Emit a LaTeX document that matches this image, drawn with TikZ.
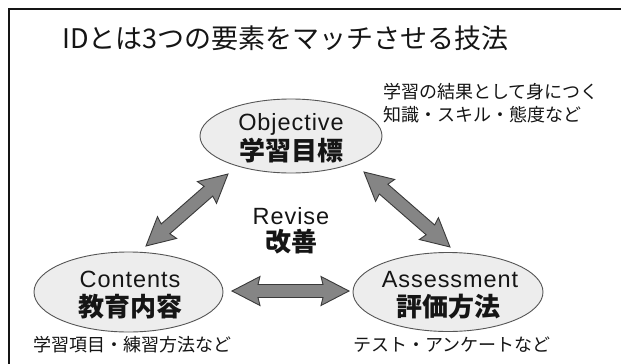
\documentclass[tikz,border=0pt]{standalone}
\usepackage{fontspec}
\setmainfont{Liberation Sans}
\newfontfamily\jp{Noto Sans CJK JP}
\newfontfamily\lat[LetterSpace=4]{Liberation Sans}
\usetikzlibrary{calc,shapes.geometric}
\definecolor{ellfill}{HTML}{EDEDED}
\definecolor{ellline}{HTML}{555555}
\definecolor{arrfill}{HTML}{858585}
\definecolor{arrline}{HTML}{3A3A3A}
\definecolor{ink}{HTML}{151515}
\tikzset{
  elem/.style={ellipse, draw=ellline, fill=ellfill, line width=0.9pt, inner sep=0pt},
  entxt/.style={inner sep=0pt, text=ink, font=\fontsize{23.5}{24}\lat},
  jatxt/.style={inner sep=0pt, text=ink, font=\fontsize{26}{28}\jp\bfseries},
  note/.style={inner sep=0pt, text=ink, anchor=west, font=\fontsize{18}{24}\jp},
  fatarrow/.style={draw=arrline, fill=arrfill, line width=0.9pt, line join=miter}
}
\newcommand\fatarrow[2]{%
  \path let \p1=(#1), \p2=(#2), \n1={atan2(\y2-\y1,\x2-\x1)}, \n2={veclen(\x2-\x1,\y2-\y1)} in
    [fatarrow, shift={(\p1)}, rotate=\n1]
    (0pt,0pt) -- (28pt,14.5pt) -- (26pt,6.5pt) -- (\n2-26pt,6.5pt) -- (\n2-28pt,14.5pt)
    -- (\n2,0pt) -- (\n2-28pt,-14.5pt) -- (\n2-26pt,-6.5pt) -- (26pt,-6.5pt) -- (28pt,-14.5pt) -- cycle;}
\begin{document}
\begin{tikzpicture}[x=1pt,y=1pt]
\useasboundingbox (0,0) rectangle (621,-364);
\fill[white] (0,0) rectangle (621,-364);
\draw[line width=2pt, color=ink] (9,-364) -- (9,-9) -- (621,-9);
\node[inner sep=0pt, anchor=base west, text=ink, font=\fontsize{27}{30}\jp] (title) at (62,-48) {IDとは3つの要素をマッチさせる技法};
% ellipses
\node[elem, minimum width=182pt, minimum height=74pt] (obj) at (291,-136) {};
\node[elem, minimum width=189pt, minimum height=80pt] (con) at (128.5,-292) {};
\node[elem, minimum width=190pt, minimum height=79pt] (ass) at (448,-292) {};
% labels
\node[entxt, anchor=base] (objE) at (291,-130) {Objective};
\node[jatxt] (objJ) at (291,-151) {学習目標};
\node[entxt, anchor=base] (conE) at (130,-287) {Contents};
\node[jatxt] (conJ) at (130,-307) {教育内容};
\node[entxt, anchor=base] (assE) at (450,-287) {Assessment};
\node[jatxt] (assJ) at (448,-307) {評価方法};
\node[entxt, anchor=base] (revE) at (291,-224) {Revise};
\node[jatxt] (revJ) at (291,-242) {改善};
% notes
\node[note] (n1) at (383,-92) {学習の結果として身につく};
\node[note] (n2) at (383,-115) {知識・スキル・態度など};
\node[note] (n3) at (33,-345) {学習項目・練習方法など};
\node[note] (n4) at (353,-345) {テスト・アンケートなど};
% arrows
\coordinate (a1) at (146,-246);
\coordinate (a2) at (228,-174);
\coordinate (b1) at (364,-172);
\coordinate (b2) at (450,-247);
\coordinate (c1) at (232,-291);
\coordinate (c2) at (349,-291);
\fatarrow{a1}{a2}
\fatarrow{b1}{b2}
\fatarrow{c1}{c2}
\end{tikzpicture}
\end{document}
